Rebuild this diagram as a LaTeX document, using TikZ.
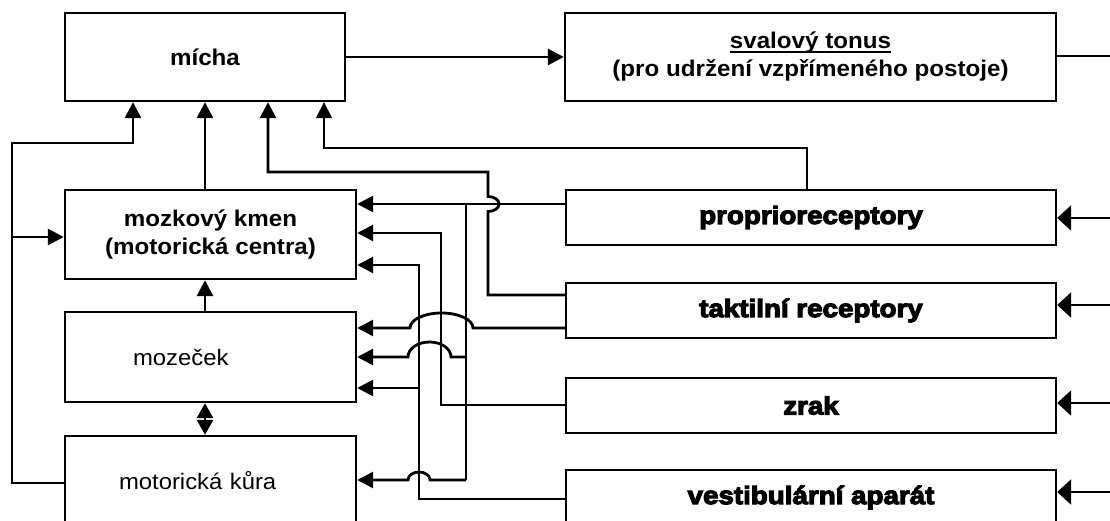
\documentclass[tikz,border=0pt]{standalone}
\usepackage{fontspec}
\setmainfont{Liberation Sans}[FakeStretch=1.065]
\newfontfamily\heavy{Liberation Sans Bold}[FakeStretch=1.11,FakeBold=4.5]
\newcommand\ulx[1]{\leavevmode\setbox0\hbox{#1}\dp0=0pt\vtop{\box0\kern2pt\hrule height 2pt}}
\usetikzlibrary{arrows.meta}
\begin{document}
\begin{tikzpicture}[x=1pt,y=-1pt,
  box/.style={draw,line width=2.4pt,inner sep=0pt,align=center,minimum width=291pt},
  wbox/.style={box,minimum width=490pt,minimum height=55pt,font=\heavy\fontsize{25}{28}\selectfont},
  bold/.style={font=\bfseries\fontsize{22.7}{28}\selectfont},
  reg/.style={font=\fontsize{22.4}{28}\selectfont},
  ln/.style={line width=2.8pt},
  thinln/.style={line width=1.8pt},
  arr/.style={-{Triangle[length=16pt,width=16pt]}},
  bigarr/.style={-{Triangle[length=14pt,width=25pt]}},
  dblarr/.style={{Triangle[length=15pt,width=16pt]}-{Triangle[length=15pt,width=16pt]}}]

\useasboundingbox (0,0) rectangle (1110,521);
\fill[white] (0,0) rectangle (1110,521);
\clip (0,0) rectangle (1110,521);

% boxes
\node[box,bold,minimum width=280pt,minimum height=88pt] (micha) at (205,57) {mícha};
\node[box,bold,minimum width=491pt,minimum height=88pt] (tonus) at (810.5,57) {\ulx{svalový tonus}\\(pro udržení vzpřímeného postoje)};
\node[box,bold,minimum height=89pt] (kmen) at (210.5,234.5) {mozkový kmen\\(motorická centra)};
\node[box,reg,minimum height=90pt,text width=155pt,inner xsep=68pt,align=left] (mozecek) at (210.5,357) {mozeček};
\node[box,reg,minimum height=89pt,text width=183pt,inner xsep=54pt,align=left] (kura) at (210.5,480.5) {motorická kůra};
\node[wbox] (proprio) at (811,217.5) {proprioreceptory};
\node[wbox] (taktil) at (811,310.5) {taktilní receptory};
\node[wbox] (zrak) at (811,405.5) {zrak};
\node[wbox] (vestib) at (811,497.5) {vestibulární aparát};

% routing points
\coordinate (oT) at (1110,56);
\coordinate (iP) at (1110,218);
\coordinate (iT) at (1110,305);
\coordinate (iZ) at (1110,403);
\coordinate (iV) at (1110,492);
\coordinate (L1) at (12,483);
\coordinate (L2) at (12,143);
\coordinate (L3) at (12,237);
\coordinate (T1) at (488,295);
\coordinate (T2) at (488,172);
\coordinate (J1) at (488,211.5);
\coordinate (J2) at (473,328);
\coordinate (J3) at (451,357);
\coordinate (J4) at (430,480);
\coordinate (P1) at (324,148);
\coordinate (P2) at (466,204);
\coordinate (P3) at (466,357);
\coordinate (P4) at (466,480);
\coordinate (Z1) at (441,405);
\coordinate (Z2) at (441,233);
\coordinate (V1) at (419,499);
\coordinate (V2) at (419,265);
\coordinate (V3) at (419,388);

% connectors
\draw[ln,arr] (micha) -- (tonus);
\draw[thinln] (oT -| tonus.east) -- (oT);
\foreach \c/\n in {iP/proprio,iT/taktil,iZ/zrak,iV/vestib}
  \draw[ln,bigarr] (\c) -- (\c -| \n.east);
\draw[ln,arr] (kmen.north -| micha.south) -- (micha.south);
\draw[ln,arr] (mozecek.north -| micha.south) -- (kmen.south -| micha.south);
\draw[ln,dblarr] (mozecek.south -| micha.south) -- (kura.north -| micha.south);
\draw[ln,arr] (L1 -| kura.west) -- (L1) -- (L2) -| ([xshift=-72pt]micha.south);
\draw[ln,arr] (L3) -- (L3 -| kmen.west);
\draw[ln,arr] (T1 -| taktil.west) -- (T1) -- (J1)
  arc[start angle=90,end angle=-90,x radius=11,y radius=7.5] -- (T2) -| ([xshift=63pt]micha.south);
\draw[thinln,arr] ([xshift=-4pt]proprio.north) |- (P1) -- (P1 |- micha.south);
\draw[ln,arr] (P2 -| proprio.west) -- (P2 -| kmen.east);
\draw[thinln] (P2) -- (P4);
\draw[ln,arr] (P4) -- (J4) arc[start angle=0,end angle=-180,x radius=11,y radius=8] -- (P4 -| kura.east);
\draw[ln,arr] (P3) -- (J3) arc[start angle=0,end angle=-180,x radius=21.5,y radius=15] -- (P3 -| mozecek.east);
\draw[ln,arr] (J2 -| taktil.west) -- (J2) arc[start angle=0,end angle=-180,x radius=31.5,y radius=15] -- (J2 -| mozecek.east);
\draw[ln,arr] (Z1 -| zrak.west) -- (Z1) -- (Z2) -- (Z2 -| kmen.east);
\draw[ln,arr] (V1 -| vestib.west) -- (V1) -- (V2) -- (V2 -| kmen.east);
\draw[ln,arr] (V3) -- (V3 -| mozecek.east);
\end{tikzpicture}
\end{document}
